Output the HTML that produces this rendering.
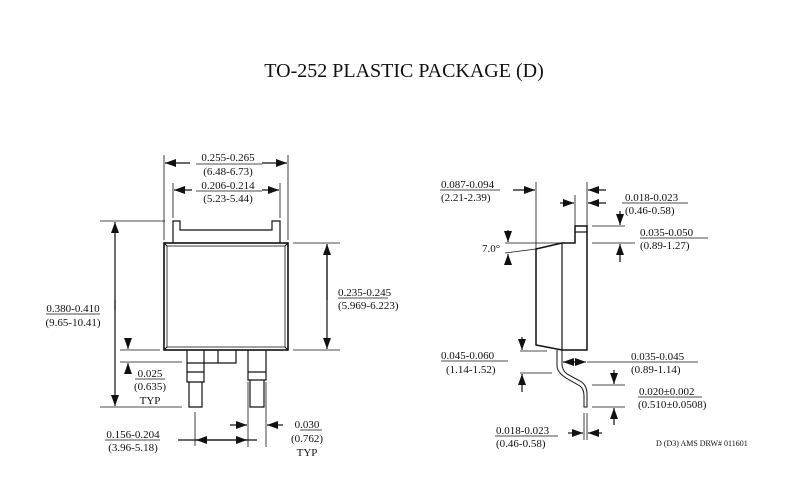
<!DOCTYPE html>
<html><head><meta charset="utf-8"><style>
html,body{margin:0;padding:0;background:#fff;}
svg{display:block;}
text{font-family:"Liberation Serif",serif;font-size:11px;fill:#111;}
</style></head><body>
<svg width="800" height="491" viewBox="0 0 800 491" xmlns="http://www.w3.org/2000/svg">
<defs>
<marker id="a" markerUnits="userSpaceOnUse" markerWidth="12" markerHeight="10" refX="11" refY="4" orient="auto">
<path d="M0,0 L11,4 L0,8 Z" fill="#111"/>
</marker>
</defs>
<text x="404" y="77" text-anchor="middle" style="font-size:20px">TO-252 PLASTIC PACKAGE (D)</text>

<g stroke="#111" stroke-width="1.2" fill="none">
<rect x="164" y="243" width="124" height="107" stroke-width="1.6"/>
<rect x="167" y="246" width="118" height="101" stroke-width="0.8"/>
<line x1="164" y1="243" x2="167" y2="246"/><line x1="288" y1="243" x2="285" y2="246"/>
<line x1="164" y1="350" x2="167" y2="347"/><line x1="288" y1="350" x2="285" y2="347"/>
<path d="M173,243 V221 H180 V230 H272 V221 H280 V243"/>
<path d="M187,350 V382 H204 V350"/><line x1="187" y1="363" x2="204" y2="363"/><line x1="187" y1="372" x2="204" y2="372"/>
<path d="M189,382 V407 H202 V382"/>
<path d="M204,363 H236 V350"/><line x1="218" y1="350" x2="218" y2="363"/>
<path d="M248,350 V380 H266 V350"/><line x1="248" y1="372" x2="266" y2="372"/>
<path d="M250,380 V407 H264 V380"/>

<g stroke-width="0.8">
<line x1="164" y1="155" x2="164" y2="240"/><line x1="288" y1="155" x2="288" y2="240"/>
<line x1="173" y1="183" x2="173" y2="218"/><line x1="280" y1="183" x2="280" y2="218"/>
<line x1="100" y1="221" x2="165" y2="221"/><line x1="100" y1="407" x2="182" y2="407"/>
<line x1="293" y1="243" x2="340" y2="243"/><line x1="293" y1="350" x2="340" y2="350"/>
<line x1="120" y1="350" x2="160" y2="350"/><line x1="120" y1="362" x2="182" y2="362"/>
<line x1="195" y1="412" x2="195" y2="446"/><line x1="248" y1="382" x2="248" y2="447"/>
<line x1="266" y1="382" x2="266" y2="447"/>
<line x1="135" y1="379" x2="165" y2="379"/>
<line x1="300" y1="430" x2="322" y2="430"/>
<line x1="105" y1="440" x2="160" y2="440"/>
<line x1="338" y1="298" x2="388" y2="298"/>
<line x1="46" y1="314" x2="100" y2="314"/>
<line x1="196" y1="164" x2="262" y2="164"/>
<line x1="196" y1="191" x2="262" y2="191"/>
</g>
<line x1="190" y1="163" x2="165" y2="163" marker-end="url(#a)"/>
<line x1="262" y1="163" x2="287" y2="163" marker-end="url(#a)"/>
<line x1="192" y1="190" x2="174" y2="190" marker-end="url(#a)"/>
<line x1="262" y1="190" x2="279" y2="190" marker-end="url(#a)"/>
<line x1="115" y1="310" x2="115" y2="222" marker-end="url(#a)"/>
<line x1="115" y1="300" x2="115" y2="406" marker-end="url(#a)"/>
<line x1="327" y1="245" x2="327" y2="349" marker-end="url(#a)"/><line x1="327" y1="300" x2="327" y2="244" marker-end="url(#a)"/>
<line x1="128" y1="339" x2="128" y2="349" marker-end="url(#a)"/>
<line x1="128" y1="374" x2="128" y2="363" marker-end="url(#a)"/>
<line x1="178" y1="440" x2="257" y2="440"/>
<line x1="220" y1="440" x2="196" y2="440" marker-end="url(#a)"/>
<line x1="220" y1="440" x2="247" y2="440" marker-end="url(#a)"/>
<line x1="230" y1="425" x2="247" y2="425" marker-end="url(#a)"/>
<line x1="283" y1="425" x2="267" y2="425" marker-end="url(#a)"/>

<path d="M536,249 L562,243 H575 V226 H587 V350 H562 L536,345 Z" stroke-width="1.5"/>
<line x1="562" y1="243" x2="562" y2="350"/>
<line x1="575" y1="232" x2="587" y2="232"/>
<path d="M557,350 V366 Q557,372 566,378 L580,386 Q584,389 584,396 V407 H587 V394 Q587,385 580,381 L567,374 Q562,370 562,364 V350" stroke-width="1"/>
<g stroke-width="0.8">
<line x1="536" y1="182" x2="536" y2="249"/><line x1="587" y1="182" x2="587" y2="226"/>
<line x1="575" y1="195" x2="575" y2="226"/>
<line x1="592" y1="226" x2="625" y2="226"/><line x1="592" y1="243" x2="635" y2="243"/>
<line x1="505" y1="243" x2="562" y2="243"/><line x1="505" y1="253" x2="536" y2="249"/>
<line x1="520" y1="351" x2="547" y2="351"/><line x1="520" y1="373" x2="552" y2="373"/>
<line x1="592" y1="385" x2="625" y2="385"/><line x1="592" y1="407" x2="625" y2="407"/>
<line x1="584" y1="413" x2="584" y2="440"/><line x1="587" y1="413" x2="587" y2="440"/>
<line x1="440" y1="190" x2="500" y2="190"/>
<line x1="622" y1="203" x2="688" y2="203"/>
<line x1="640" y1="238" x2="708" y2="238"/>
<line x1="441" y1="361" x2="508" y2="361"/>
<line x1="587" y1="362" x2="698" y2="362"/>
<line x1="638" y1="397" x2="702" y2="397"/>
<line x1="495" y1="436" x2="558" y2="436"/>
</g>
<line x1="513" y1="190" x2="535" y2="190" marker-end="url(#a)"/>
<line x1="606" y1="190" x2="588" y2="190" marker-end="url(#a)"/>
<line x1="560" y1="203" x2="574" y2="203" marker-end="url(#a)"/>
<line x1="606" y1="203" x2="588" y2="203" marker-end="url(#a)"/>
<line x1="620" y1="211" x2="620" y2="225" marker-end="url(#a)"/>
<line x1="620" y1="262" x2="620" y2="244" marker-end="url(#a)"/>
<line x1="508" y1="230" x2="508" y2="242" marker-end="url(#a)"/>
<line x1="508" y1="265" x2="508" y2="254" marker-end="url(#a)"/>
<line x1="522" y1="337" x2="522" y2="350" marker-end="url(#a)"/>
<line x1="522" y1="392" x2="522" y2="374" marker-end="url(#a)"/>
<line x1="575" y1="362" x2="563" y2="362" marker-end="url(#a)"/>
<line x1="574" y1="362" x2="586" y2="362" marker-end="url(#a)"/>
<line x1="614" y1="370" x2="614" y2="384" marker-end="url(#a)"/>
<line x1="614" y1="425" x2="614" y2="408" marker-end="url(#a)"/>
<line x1="568" y1="433" x2="583" y2="433" marker-end="url(#a)"/>
<line x1="602" y1="433" x2="588" y2="433" marker-end="url(#a)"/>
</g>

<text x="228" y="161" text-anchor="middle">0.255-0.265</text>
<text x="228" y="175" text-anchor="middle">(6.48-6.73)</text>
<text x="228" y="189" text-anchor="middle">0.206-0.214</text>
<text x="228" y="202" text-anchor="middle">(5.23-5.44)</text>
<text x="73" y="312" text-anchor="middle">0.380-0.410</text>
<text x="73" y="326" text-anchor="middle">(9.65-10.41)</text>
<text x="338" y="296">0.235-0.245</text>
<text x="338" y="309">(5.969-6.223)</text>
<text x="150" y="377" text-anchor="middle">0.025</text>
<text x="150" y="390" text-anchor="middle">(0.635)</text>
<text x="150" y="404" text-anchor="middle">TYP</text>
<text x="133" y="438" text-anchor="middle">0.156-0.204</text>
<text x="133" y="451" text-anchor="middle">(3.96-5.18)</text>
<text x="307" y="428" text-anchor="middle">0.030</text>
<text x="307" y="442" text-anchor="middle">(0.762)</text>
<text x="307" y="456" text-anchor="middle">TYP</text>
<text x="441" y="188">0.087-0.094</text>
<text x="441" y="201">(2.21-2.39)</text>
<text x="625" y="201">0.018-0.023</text>
<text x="625" y="214">(0.46-0.58)</text>
<text x="640" y="236">0.035-0.050</text>
<text x="640" y="249">(0.89-1.27)</text>
<text x="482" y="252">7.0°</text>
<text x="441" y="359">0.045-0.060</text>
<text x="446" y="373">(1.14-1.52)</text>
<text x="631" y="360">0.035-0.045</text>
<text x="631" y="373">(0.89-1.14)</text>
<text x="639" y="395">0.020±0.002</text>
<text x="638" y="408">(0.510±0.0508)</text>
<text x="496" y="434">0.018-0.023</text>
<text x="496" y="447">(0.46-0.58)</text>
<text x="656" y="446" style="font-size:8px">D (D3) AMS DRW# 011601</text>
</svg>
</body></html>
